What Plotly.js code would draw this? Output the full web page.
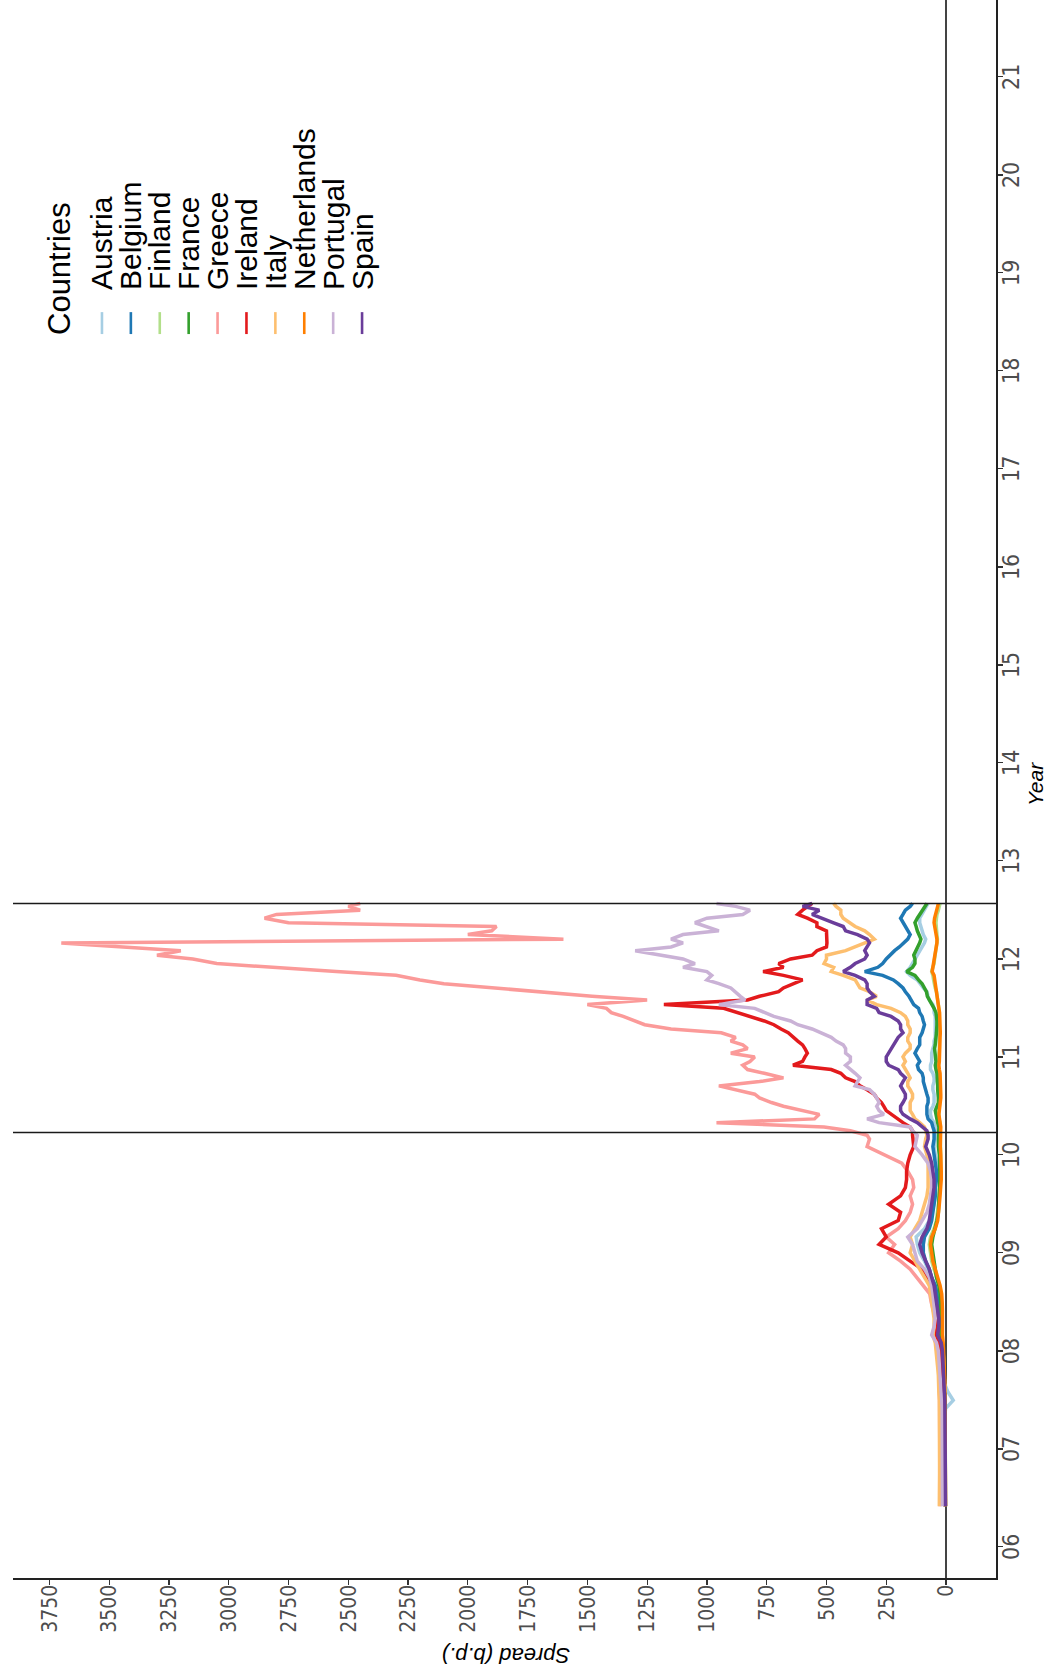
<!DOCTYPE html>
<html>
<head>
<meta charset="utf-8">
<script src="https://cdn.plot.ly/plotly-3.0.1.min.js"></script>
<style>
  html, body { margin: 0; padding: 0; background: #ffffff; overflow: hidden; }
  /* The chart is laid out landscape and turned a quarter turn to stand on the page. */
  #frame {
    position: absolute; left: 0; top: 1672px;
    width: 1672px; height: 1046px;
    transform-origin: 0 0; transform: rotate(-90deg);
  }
  #chart { width: 1672px; height: 1046px; }
</style>
</head>
<body>
<div id="frame"><div id="chart"></div></div>
<script>
// Observation dates: monthly to early 2010, twice a month afterwards.
const dates = [
  '2006-06-01','2006-07-01','2006-08-01','2006-09-01','2006-10-01','2006-11-01','2006-12-01',
  '2007-01-01','2007-02-01','2007-03-01','2007-04-01','2007-05-01','2007-06-01','2007-07-01','2007-08-01','2007-09-01','2007-10-01','2007-11-01','2007-12-01',
  '2008-01-01','2008-02-01','2008-03-01','2008-04-01','2008-05-01','2008-06-01','2008-07-01','2008-08-01','2008-09-01','2008-10-01','2008-11-01','2008-12-01',
  '2009-01-01','2009-02-01','2009-03-01','2009-04-01','2009-05-01','2009-06-01','2009-07-01','2009-08-01','2009-09-01','2009-10-01','2009-11-01','2009-12-01',
  '2010-01-01','2010-02-01','2010-03-01',
  '2010-03-15','2010-04-01','2010-04-15','2010-05-01','2010-05-15','2010-06-01','2010-06-15','2010-07-01','2010-07-15','2010-08-01','2010-08-15',
  '2010-09-01','2010-09-15','2010-10-01','2010-10-15','2010-11-01','2010-11-15','2010-12-01','2010-12-15',
  '2011-01-01','2011-01-15','2011-02-01','2011-02-15','2011-03-01','2011-03-15','2011-04-01','2011-04-15','2011-05-01','2011-05-15','2011-06-01','2011-06-15',
  '2011-07-01','2011-07-15','2011-08-01','2011-08-15','2011-09-01','2011-09-15','2011-10-01','2011-10-15','2011-11-01','2011-11-15','2011-12-01','2011-12-15',
  '2012-01-01','2012-01-15','2012-02-01','2012-02-15','2012-03-01','2012-03-15','2012-04-01','2012-04-15','2012-05-01','2012-05-15','2012-06-01','2012-06-15',
  '2012-07-01','2012-07-15','2012-07-26'
];

// Ten-year government bond spreads, basis points.
const austria = [
  4,4,3,3,4,4,4,
  5,5,5,6,5,2,-30,-8,6,8,12,15,
  18,22,30,28,25,28,30,35,45,60,75,90,
  110,120,125,90,70,60,50,45,45,40,40,40,
  45,50,45,
  45,45,45,50,60,65,65,55,50,50,50,55,55,50,50,55,65,65,60,
  60,60,55,50,50,45,45,45,45,45,45,50,50,55,70,75,80,95,110,120,150,165,150,140,
  130,120,110,100,90,85,95,100,105,110,110,100,90,80,75
];
const belgium = [
  3,3,3,3,4,4,4,
  4,4,5,5,5,6,8,12,14,15,18,22,
  25,28,35,32,30,32,35,38,45,60,70,85,
  95,95,90,70,60,55,50,45,45,40,40,45,
  50,55,50,
  50,50,55,60,75,80,80,80,75,75,80,85,90,95,95,100,115,120,110,
  120,130,120,110,110,110,100,95,90,95,100,110,115,135,145,155,170,180,200,220,265,340,285,265,
  250,235,215,195,175,160,150,160,170,180,190,180,170,150,140
];
const finland = [
  2,2,2,2,2,2,2,
  2,2,3,3,3,3,4,6,6,7,8,10,
  12,15,20,18,17,18,20,22,28,40,50,60,
  65,70,65,50,40,35,30,28,25,22,22,22,
  22,25,22,
  22,22,22,25,30,32,30,28,25,25,25,25,25,25,25,28,32,32,30,
  30,30,28,28,28,28,25,25,25,25,25,28,30,32,35,38,40,45,50,52,55,60,55,50,
  48,45,42,40,38,36,38,40,40,42,40,38,32,28,25
];
const france = [
  3,3,3,3,3,3,3,
  3,3,3,4,4,4,5,7,8,9,10,12,
  15,18,22,20,20,22,22,25,30,40,45,50,
  55,60,55,45,38,32,30,28,27,26,26,26,
  28,32,30,
  30,30,30,35,38,42,45,38,32,32,35,35,35,35,35,38,42,45,42,
  45,48,48,45,45,42,40,38,38,38,40,42,50,60,70,78,82,90,100,115,130,165,140,130,
  130,135,125,115,110,105,115,120,125,130,120,110,100,90,80
];
const greece = [
  25,25,25,24,24,24,24,
  24,24,25,25,25,26,27,28,28,28,30,30,
  32,35,50,45,45,55,62,68,95,120,150,190,
  240,215,250,200,170,150,140,150,135,140,160,185,
  260,330,320,
  330,400,510,960,550,530,600,680,730,780,800,880,950,780,680,760,830,850,820,
  800,900,830,850,900,880,940,1150,1260,1300,1350,1400,1420,1500,1250,1480,1700,1900,2100,2200,2300,2550,2800,3050,
  3150,3300,3200,3450,3700,1600,2000,1900,1880,2750,2850,2800,2450,2500,2450
];
const ireland = [
  5,5,5,5,6,6,6,
  6,6,7,7,7,8,10,12,14,15,18,20,
  25,30,40,38,35,38,42,50,60,80,100,150,
  200,280,250,270,200,190,240,190,170,165,165,160,
  150,135,140,
  140,140,150,180,200,230,250,260,270,290,300,330,360,380,420,440,480,640,600,
  590,580,590,600,620,640,660,690,720,760,820,880,930,1180,830,780,700,680,640,600,680,765,680,700,
  650,560,540,500,498,498,500,500,540,540,580,620,600,580,560
];
const italy = [
  28,27,26,26,27,27,27,
  27,27,26,26,25,26,28,30,30,32,35,38,
  40,45,55,50,50,55,60,65,70,90,110,130,
  150,140,150,130,110,100,90,80,75,75,75,75,
  80,90,85,
  80,85,90,110,130,140,150,150,150,140,140,150,160,160,150,160,170,180,170,
  180,170,150,150,160,160,150,150,160,160,170,190,230,290,330,290,320,360,370,380,430,480,470,510,
  500,500,420,380,330,300,320,340,380,400,430,440,440,460,470
];
const netherlands = [
  2,2,2,2,2,2,2,
  2,2,2,3,3,3,4,5,5,6,7,8,
  10,12,15,14,14,15,16,18,25,35,45,55,
  60,65,60,45,35,30,28,25,22,20,20,20,
  22,24,22,
  22,22,22,25,28,30,28,25,22,22,22,22,22,22,22,25,28,30,28,
  28,28,26,26,25,25,24,24,24,24,25,27,30,32,35,38,40,42,45,48,50,58,55,50,
  48,45,42,40,38,38,42,45,48,50,48,45,40,35,32
];
const portugal = [
  15,15,15,14,14,14,14,
  14,14,14,14,15,16,18,20,22,24,26,28,
  32,40,60,50,45,48,50,55,60,70,90,120,
  130,140,160,120,100,80,70,65,60,60,65,75,
  100,130,125,
  120,140,150,280,330,260,280,290,280,290,300,320,380,370,360,380,400,420,400,
  400,420,420,430,460,480,520,560,620,650,720,760,800,950,840,860,880,900,950,1000,980,1000,1100,1050,
  1100,1200,1300,1150,1100,1150,1100,950,1000,1050,1000,850,820,880,960
];
const spain = [
  2,2,2,2,2,2,2,
  2,2,2,3,3,3,5,7,8,9,10,12,
  15,20,35,30,30,35,40,45,50,60,70,85,
  100,110,100,80,70,65,60,55,50,50,55,60,
  70,85,75,
  75,80,100,120,150,180,190,190,180,170,170,180,190,180,170,190,200,240,250,
  250,240,230,220,210,200,180,190,190,200,230,280,290,330,330,300,320,330,330,340,380,430,400,380,
  340,330,340,330,320,330,370,420,430,470,520,560,530,600,560
];

const countries = ['Austria','Belgium','Finland','France','Greece','Ireland','Italy','Netherlands','Portugal','Spain'];
const seriesList = [austria, belgium, finland, france, greece, ireland, italy, netherlands, portugal, spain];
const palette = ['#A6CEE3','#1F78B4','#B2DF8A','#33A02C','#FB9A99','#E31A1C','#FDBF6F','#FF7F00','#CAB2D6','#6A3D9A'];

// Dates of the two reference events marked across the panel.
const eventDates = ['2010-03-25', '2012-07-26'];

const yTicks = [0,250,500,750,1000,1250,1500,1750,2000,2250,2500,2750,3000,3250,3500,3750];

const narrowFamily = 'Liberation Sans Narrow, DejaVu Sans Condensed, Arial Narrow, Liberation Sans, sans-serif';
const textFont = 'Liberation Sans, Arial, Helvetica, sans-serif';

const traces = seriesList.map((vals, i) => ({
  type: 'scatter',
  mode: 'lines',
  x: dates,
  y: vals,
  name: countries[i],
  line: { color: palette[i], width: 3.5 },
  hoverinfo: 'skip'
}));

const shapes = eventDates.map(d => ({
  type: 'line', xref: 'x', yref: 'paper',
  x0: d, x1: d, y0: 0, y1: 1,
  line: { color: '#1a1a1a', width: 1.5 },
  layer: 'above'
}));

// Axis titles.
const annotations = [
  {
    xref: 'paper', yref: 'paper', x: 0.503, y: -0.0397,
    xanchor: 'center', yanchor: 'middle', showarrow: false,
    text: '<i>Year</i>', font: { family: textFont, size: 21, color: '#000000' }
  },
  {
    xref: 'paper', yref: 'paper', x: -0.049, y: 0.498,
    xanchor: 'center', yanchor: 'middle', showarrow: false, textangle: -90,
    text: '<i>Spread (b.p.)</i>', font: { family: textFont, size: 22, color: '#000000' }
  }
];

// Legend: title, colour keys and country names.
const legendX = 0.8148, keyX0 = 0.7883, keyX1 = 0.8022;
const legendTop = 0.9095, legendStep = 0.0294;
annotations.push({
  xref: 'paper', yref: 'paper', x: 0.7865, y: 0.9522,
  xanchor: 'left', yanchor: 'middle', showarrow: false,
  text: 'Countries', font: { family: textFont, size: 31, color: '#000000' }
});
countries.forEach((c, i) => {
  const yy = legendTop - legendStep * i;
  annotations.push({
    xref: 'paper', yref: 'paper', x: legendX, y: yy,
    xanchor: 'left', yanchor: 'middle', showarrow: false,
    text: c, font: { family: textFont, size: 30, color: '#000000' }
  });
  shapes.push({
    type: 'line', xref: 'paper', yref: 'paper',
    x0: keyX0, x1: keyX1, y0: yy, y1: yy,
    line: { color: palette[i], width: 2.6 }
  });
});

const layout = {
  width: 1672, height: 1046,
  margin: { l: 94, r: 0, t: 13, b: 50 },
  paper_bgcolor: '#ffffff', plot_bgcolor: '#ffffff',
  showlegend: false,
  xaxis: {
    type: 'date',
    range: ['2005-09-07', '2021-10-14'],
    tick0: '2006-01-01', dtick: 'M12', tickformat: '%y',
    ticks: 'outside', ticklen: 5, tickwidth: 1.2, tickcolor: '#333333',
    ticklabelstandoff: -11,
    showline: true, linecolor: '#222222', linewidth: 1.5,
    showgrid: false, zeroline: false,
    tickfont: { family: narrowFamily, size: 23, color: '#4d4d4d' }
  },
  yaxis: {
    range: [-209, 3902],
    tickvals: yTicks,
    ticks: 'outside', ticklen: 5, tickwidth: 1.2, tickcolor: '#333333',
    ticklabelstandoff: -4,
    showline: true, linecolor: '#222222', linewidth: 1.5,
    showgrid: false,
    zeroline: true, zerolinecolor: '#444444', zerolinewidth: 1.5,
    tickfont: { family: narrowFamily, size: 21, color: '#4d4d4d' }
  },
  shapes: shapes,
  annotations: annotations
};

Plotly.newPlot('chart', traces, layout, { staticPlot: true, displayModeBar: false });
</script>
</body>
</html>
